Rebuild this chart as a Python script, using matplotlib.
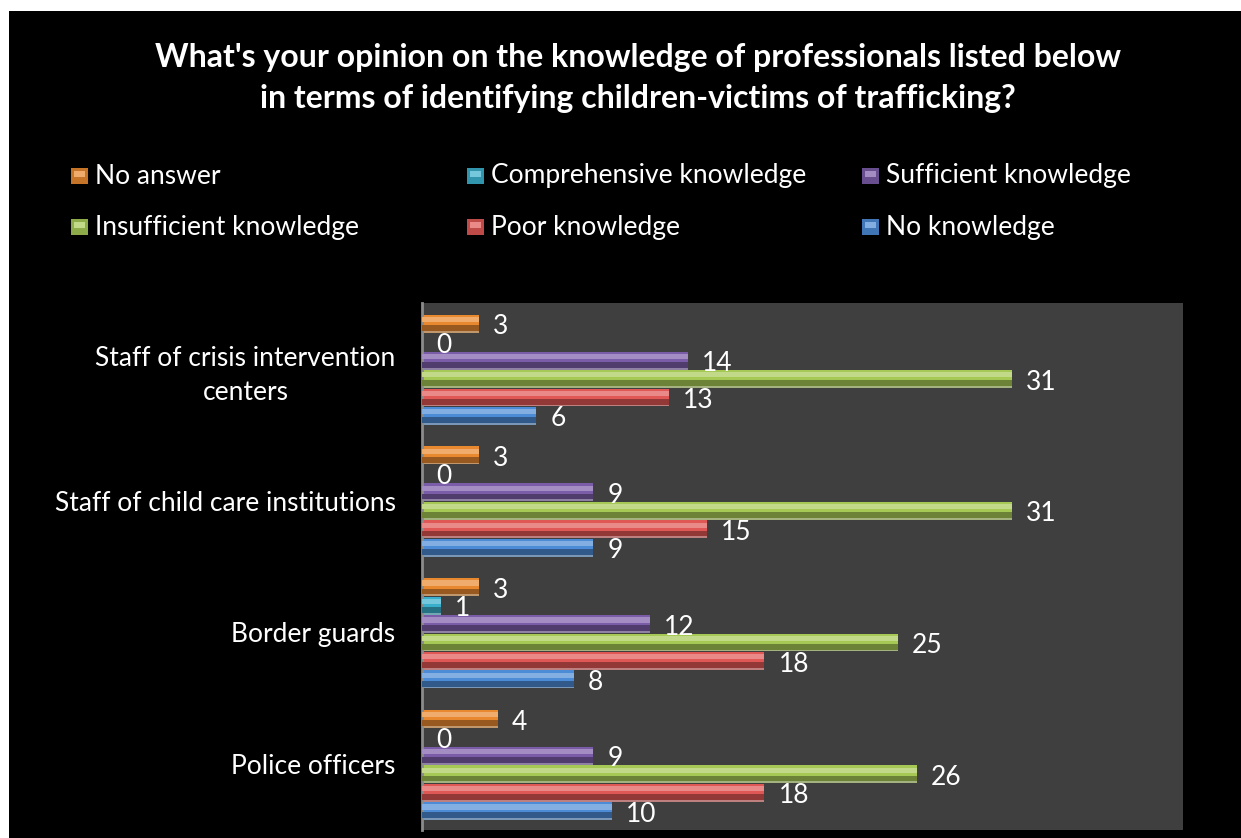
import matplotlib.pyplot as plt
import matplotlib.colors as mcolors
from matplotlib.patches import Rectangle
import numpy as np

plt.rcParams['font.family'] = ['Lato', 'DejaVu Sans']

# categories from bottom to top of the chart
categories = ['Police officers', 'Border guards', 'Staff of child care institutions',
              'Staff of crisis intervention\ncenters']

# series, in legend order (top bar of each group first)
series_names = ['No answer', 'Comprehensive knowledge', 'Sufficient knowledge',
                'Insufficient knowledge', 'Poor knowledge', 'No knowledge']
no_answer = [4, 3, 3, 3]
comprehensive = [0, 1, 0, 0]
sufficient = [9, 12, 9, 14]
insufficient = [26, 25, 31, 31]
poor = [18, 18, 15, 13]
no_knowledge = [10, 8, 9, 6]
series_values = [no_answer, comprehensive, sufficient, insufficient, poor, no_knowledge]

colors = ['#E8892F', '#3AAFCB', '#7B5CA8', '#A6C955', '#E05855', '#4C8BD6']

title = "What's your opinion on the knowledge of professionals listed below\nin terms of identifying children-victims of trafficking?"

bg = '#3F3F3F'


def mix(c, other, t):
    a = np.array(mcolors.to_rgb(c))
    b = np.array(mcolors.to_rgb(other))
    return tuple(a * (1 - t) + b * t)


fig = plt.figure(figsize=(12.41, 8.38), dpi=100, facecolor='white')
# black chart area (thin white margin at top and left)
fig.patches.append(Rectangle((9 / 1241, 0), 1, 1 - 11 / 838, transform=fig.transFigure,
                             facecolor='black', edgecolor='none', zorder=-10))

ax = fig.add_axes([422 / 1241, 8 / 838, (1183 - 422) / 1241, (830 - 303) / 838])
ax.set_facecolor(bg)

pitch = 0.14
h = 0.122
y = np.arange(len(categories))

for j, (name, vals, col) in enumerate(zip(series_names, series_values, colors)):
    yc = y + (2.5 - j) * pitch
    # soft shadow under the bar
    ax.barh(yc - 0.014, vals, height=h, color=mix(col, '#A0A0A0', 0.55), zorder=1)
    # body
    ax.barh(yc, vals, height=h, color=col, zorder=2)
    # dark lower band
    ax.barh(yc - h * 0.32, vals, height=h * 0.36, color=mix(col, 'black', 0.35), zorder=3)
    # light upper band
    ax.barh(yc + h * 0.2, vals, height=h * 0.32, color=mix(col, 'white', 0.3), zorder=3)
    for yy, v in zip(yc, vals):
        ax.annotate(str(v), (v, yy), xytext=(14, -4), textcoords='offset pixels',
                    ha='left', va='center', color='white', fontsize=19, zorder=5)

ax.set_xlim(0, 40)
ax.set_ylim(-0.5, len(categories) - 0.5)
ax.set_xticks([])
ax.set_yticks(y)
ax.set_yticklabels(categories, fontsize=19, color='white', multialignment='center',
                   linespacing=1.45)
ax.tick_params(axis='y', length=0, pad=19)
for s in ['top', 'right', 'bottom']:
    ax.spines[s].set_visible(False)
ax.spines['left'].set_color('#8C8C8C')
ax.spines['left'].set_linewidth(2)

fig.text(638 / 1241, 1 - 78 / 838, title, ha='center', va='center', color='white',
         fontsize=23, fontweight='bold', linespacing=1.52)

# legend: three evenly spaced columns, two rows
col_x = [71, 467, 862]
row_y = [176, 227]
for k, (name, col) in enumerate(zip(series_names, colors)):
    px = col_x[k % 3]
    py = row_y[k // 3]
    fig.patches.append(Rectangle((px / 1241, 1 - (py + 8) / 838), 17 / 1241, 16 / 838,
                                 transform=fig.transFigure, facecolor=mix(col, 'black', 0.15),
                                 edgecolor='none'))
    fig.patches.append(Rectangle(((px + 3) / 1241, 1 - (py + 1) / 838), 11 / 1241, 6 / 838,
                                 transform=fig.transFigure, facecolor=mix(col, 'white', 0.3),
                                 edgecolor='none'))
    fig.text((px + 24) / 1241, 1 - py / 838, name, ha='left', va='center',
             color='white', fontsize=19)

fig.savefig('out.png', dpi=100, facecolor=fig.get_facecolor())
